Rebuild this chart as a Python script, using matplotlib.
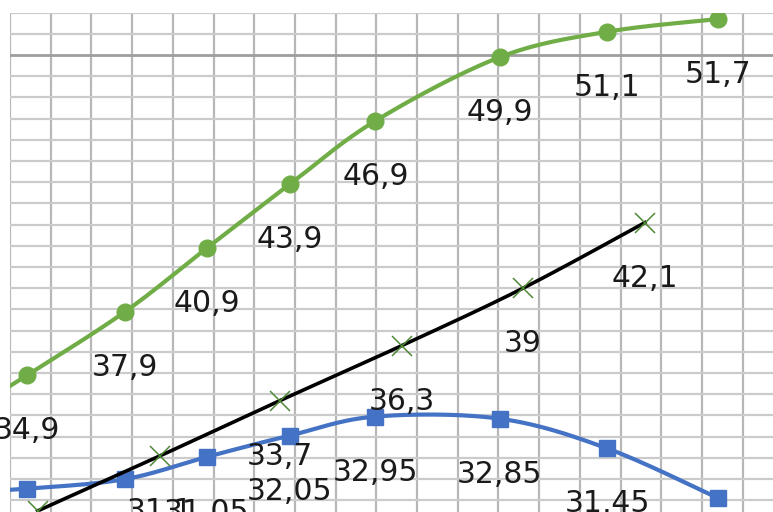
import numpy as np
import matplotlib
matplotlib.use("Agg")
import matplotlib.pyplot as plt

# x positions in gridline units
# (first green/blue point is outside the visible area, it only shapes the line entering the plot)
x_gb = [-2.0, 0.42, 2.83, 4.84, 6.87, 8.98, 12.03, 14.67, 17.4]
green = [32.0, 34.9, 37.9, 40.9, 43.9, 46.9, 49.9, 51.1, 51.7]
blue = [29.3, 29.55, 30.0, 31.05, 32.05, 32.95, 32.85, 31.45, 29.1]
x_black = [0.68, 3.69, 6.63, 9.63, 12.6, 15.6]
black = [28.5, 31.1, 33.7, 36.3, 39.0, 42.1]


def smooth(xs, ys, n=30):
    # Catmull-Rom style bezier like Excel's smoothed line
    p = np.column_stack([xs, ys]).astype(float)
    p = np.vstack([p[0], p, p[-1]])
    out = []
    for i in range(1, len(p) - 2):
        p0, p1, p2, p3 = p[i - 1], p[i], p[i + 1], p[i + 2]
        c1 = p1 + (p2 - p0) / 6
        c2 = p2 - (p3 - p1) / 6
        t = np.linspace(0, 1, n)[:, None]
        seg = (1 - t) ** 3 * p1 + 3 * (1 - t) ** 2 * t * c1 + 3 * (1 - t) * t ** 2 * c2 + t ** 3 * p2
        out.append(seg)
    out = np.vstack(out)
    return out[:, 0], out[:, 1]


def fmt(v):
    return f"{v:g}".replace(".", ",")


fig = plt.figure(figsize=(7.73, 5.12), dpi=100)
W, H = 773, 512
top_px = 12.7
ax = fig.add_axes([10 / W, 0, (W - 10) / W, (H - top_px) / H])
ax.set_xlim(0, (W - 10) / 40.7)
ax.set_ylim(52 - (H - top_px) / 21.2, 52)
for s in ax.spines.values():
    s.set_visible(False)
ax.set_xticks([])
ax.set_yticks([])

# gridlines
for gx in range(0, 19):
    ax.axvline(gx, color="#b7b7b7", lw=1.6, zorder=0)
for gy in range(29, 53):
    if gy == 50:
        ax.axhline(gy, color="#9e9e9e", lw=2.0, zorder=0.5)
    else:
        ax.axhline(gy, color="#cbcbcb", lw=1.6, zorder=0)

green_c = "#70AD47"
blue_c = "#4472C4"

sx, sy = smooth(x_gb, green)
ax.plot(sx, sy, color=green_c, lw=3, zorder=2)
ax.plot(x_gb, green, "o", color=green_c, ms=12, zorder=3)

sx, sy = smooth(x_gb, blue)
ax.plot(sx, sy, color=blue_c, lw=3, zorder=2)
ax.plot(x_gb, blue, "s", color=blue_c, ms=12, zorder=3)

sx, sy = smooth(x_black, black)
ax.plot(sx, sy, color="black", lw=2.6, zorder=4)
ax.plot(x_black, black, "x", color="#4f8a35", ms=14, mew=1.1, zorder=5)

txt = dict(textcoords="offset points", ha="center", va="center", fontsize=21.5,
           color="#1a1a1a", annotation_clip=False, zorder=6)
for xs, ys in [(x_gb, green), (x_gb, blue), (x_black, black)]:
    for xv, yv in zip(xs, ys):
        ax.annotate(fmt(yv), (xv, yv), xytext=(0, -40), **txt)

fig.savefig("out.png", dpi=100)
